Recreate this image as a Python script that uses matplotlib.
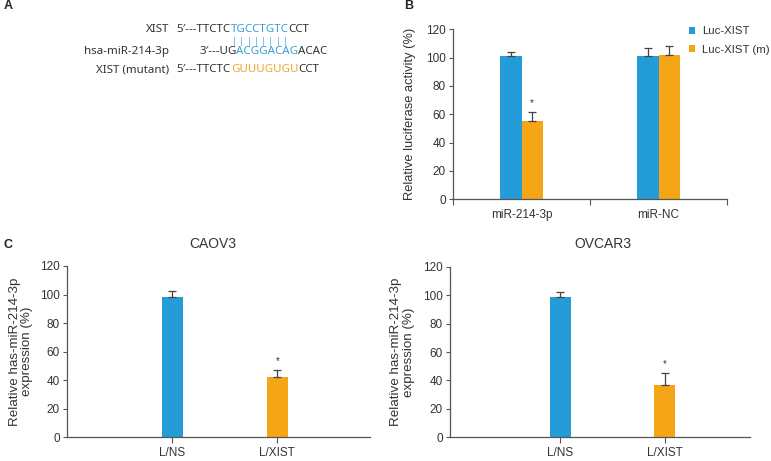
import matplotlib
matplotlib.use("Agg")
import matplotlib.pyplot as plt
import numpy as np

plt.rcParams['font.family'] = ['Liberation Sans', 'DejaVu Sans']

# ---------------- data ----------------
b_categories = ["miR-214-3p", "miR-NC"]
b_luc_xist = [101, 101]
b_luc_xist_err = [3, 5.5]
b_luc_xist_m = [55.5, 102]
b_luc_xist_m_err = [6, 6.3]
b_legend = ["Luc-XIST", "Luc-XIST (m)"]

c_categories = ["L/NS", "L/XIST"]
caov3_values = [98.5, 42]
caov3_err = [4, 5]
ovcar3_values = [98.5, 37]
ovcar3_err = [3.5, 8]

yticks = [0, 20, 40, 60, 80, 100, 120]

BLUE = "#239cd8"
ORANGE = "#f5a617"
ERR = "#444444"
SPINE = "#555555"
TXT = "#333333"
TICK_FS = 8.5
YLAB_FS = 9.3

W, H = 771, 461
fig = plt.figure(figsize=(W / 100, H / 100), dpi=100)


def px_axes(x0, y0, x1, y1):
    return fig.add_axes([x0 / W, 1 - y1 / H, (x1 - x0) / W, (y1 - y0) / H])


def style(ax):
    for s in ["top", "right"]:
        ax.spines[s].set_visible(False)
    for s in ["left", "bottom"]:
        ax.spines[s].set_color(SPINE)
        ax.spines[s].set_linewidth(0.9)
    ax.set_ylim(0, 120)
    ax.set_yticks(yticks)
    ax.tick_params(axis="both", colors=SPINE, labelcolor=TXT,
                   labelsize=TICK_FS, length=3, width=0.8, pad=2)


def errbars(ax, xs, vals, errs):
    ax.errorbar(xs, vals, yerr=[np.zeros(len(errs)), errs], fmt="none",
                ecolor=ERR, elinewidth=0.9, capsize=3, capthick=0.9)


def star(ax, x, top):
    ax.annotate("*", (x, top), xytext=(0, 3), textcoords="offset points",
                ha="center", va="bottom", fontsize=7, color=TXT)


# ---------------- panel B ----------------
axb = px_axes(453, 29.3, 727, 199.3)
style(axb)
xb = np.arange(len(b_categories))
bw = 0.156
axb.bar(xb - bw / 2, b_luc_xist, bw, color=BLUE, label=b_legend[0])
axb.bar(xb + bw / 2, b_luc_xist_m, bw, color=ORANGE, label=b_legend[1])
errbars(axb, xb - bw / 2, b_luc_xist, b_luc_xist_err)
errbars(axb, xb + bw / 2, b_luc_xist_m, b_luc_xist_m_err)
star(axb, xb[0] + bw / 2, b_luc_xist_m[0] + b_luc_xist_m_err[0])
axb.set_xlim(-0.5, 1.5)
axb.set_xticks([-0.5, 0.5, 1.5])
axb.set_xticklabels([])
axb.set_xticks(xb, minor=True)
axb.set_xticklabels(b_categories, minor=True)
axb.tick_params(axis="x", which="minor", length=0, pad=7,
                labelsize=TICK_FS, labelcolor=TXT)
axb.tick_params(axis="x", which="major", length=4)
axb.set_ylabel("Relative luciferase activity (%)", fontsize=YLAB_FS,
               color=TXT)
axb.yaxis.set_label_coords(-0.135, 0.5)
leg = axb.legend(loc="upper left", bbox_to_anchor=(0.845, 1.045),
                 frameon=False, fontsize=8.2, handlelength=0.55,
                 handleheight=0.55, handletextpad=0.6, labelspacing=0.75,
                 borderaxespad=0)
for t in leg.get_texts():
    t.set_color(TXT)


# ---------------- panel C ----------------
def panel_c(box, vals, errs, title, xlim, title_x, lab_x):
    ax = px_axes(*box)
    style(ax)
    x = np.arange(len(c_categories))
    ax.bar(x, vals, 0.2, color=[BLUE, ORANGE])
    errbars(ax, x, vals, errs)
    star(ax, x[1], vals[1] + errs[1])
    ax.set_xlim(*xlim)
    ax.set_xticks(x)
    ax.set_xticklabels(c_categories)
    ax.tick_params(axis="x", length=4, pad=3)
    ax.set_ylabel("Relative has-miR-214-3p\nexpression (%)", fontsize=9.6,
                  color=TXT, linespacing=1.05)
    ax.yaxis.set_label_coords(lab_x, 0.5)
    fig.text(title_x / W, 1 - 244 / H, title, ha="center", va="center",
             fontsize=10, color=TXT)
    return ax


panel_c((66.7, 266, 370, 437.3), caov3_values, caov3_err, "CAOV3",
        (-1.006, 1.883), 213, -0.111)
panel_c((450, 266.7, 750, 437.3), ovcar3_values, ovcar3_err, "OVCAR3",
        (-1.048, 1.81), 603, -0.117)

# ---------------- panel labels ----------------
for lab, (x, y) in {"A": (3.5, 6), "B": (404, 6), "C": (3.5, 245)}.items():
    fig.text(x / W, 1 - y / H, lab, ha="left", va="center", fontsize=9,
             fontweight="bold", color="#222222")

# ---------------- panel A: sequences ----------------
SEQ_BLUE = "#3a9fd6"
SEQ_ORANGE = "#efa72a"
FS = 8.3
AFONT = ['Noto Sans', 'DejaVu Sans']
names = ["XIST", "hsa-miR-214-3p", "XIST (mutant)"]
rows = [
    [("5\u2032---TTCTC", TXT), ("TGCCTGTC", SEQ_BLUE), ("CCT", TXT)],
    [("3\u2032---UG", TXT), ("ACGGACAG", SEQ_BLUE), ("ACAC", TXT)],
    [("5\u2032---TTCTC", TXT), ("GUUUGUGU", SEQ_ORANGE), ("CCT", TXT)],
]
row_y = [29.3, 51.7, 70]
row_x = [176.7, 199, 176.7]

fig.canvas.draw()
renderer = fig.canvas.get_renderer()
blue_span = None
for name, segs, y, x0 in zip(names, rows, row_y, row_x):
    fig.text(169 / W, 1 - y / H, name, ha="right", va="center", fontsize=FS,
             color=TXT, family=AFONT)
    x = x0
    for i, (s, c) in enumerate(segs):
        t = fig.text(x / W, 1 - y / H, s, ha="left", va="center",
                     fontsize=FS, color=c, family=AFONT)
        bb = t.get_window_extent(renderer)
        if name == "XIST" and i == 1:
            blue_span = (x, x + bb.width)
        x += bb.width

# base-pair ticks
x0, x1 = blue_span
n = 8
step = (x1 - x0) / n
for k in range(n):
    cx = x0 + step * (k + 0.5)
    fig.text(cx / W, 1 - 41.5 / H, "|", ha="center", va="center",
             fontsize=6.5, color=SEQ_BLUE, family=AFONT)

fig.savefig("out.png", dpi=100)
